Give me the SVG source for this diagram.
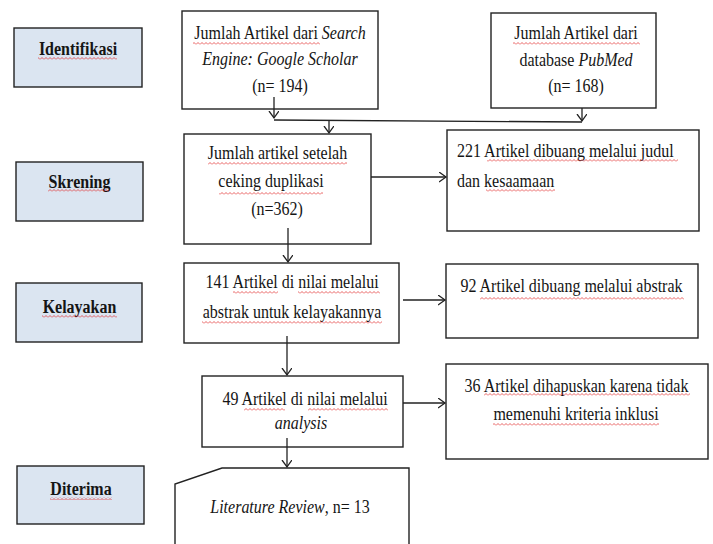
<svg xmlns="http://www.w3.org/2000/svg" width="713" height="544" viewBox="0 0 713 544" font-family="Liberation Serif, Times New Roman, serif" font-size="16">
<style>
text{font-family:'Liberation Serif','Times New Roman',serif;font-size:16px;fill:#151515}
.c{text-anchor:middle}
.b{font-weight:bold}
.i{font-style:italic}
.lab{fill:#dbe5f1;stroke:#222;stroke-width:1.4}
.box{fill:#fff;stroke:#222;stroke-width:1.4}
.con{fill:none;stroke:#222;stroke-width:1.3}
.sq{fill:url(#wave)}
</style>
<defs>
<marker id="ah" markerUnits="userSpaceOnUse" markerWidth="12" markerHeight="12" refX="7" refY="5" orient="auto">
<path d="M0,0 L7,5 L0,10" fill="none" stroke="#222" stroke-width="1.3"/>
</marker>
<pattern id="wave" patternUnits="userSpaceOnUse" width="4" height="3">
<path d="M0,2.5 L2,0.5 L4,2.5" fill="none" stroke="#e02020" stroke-width="0.7"/>
</pattern>
</defs>

<g id="lab-identifikasi"><rect class="lab" x="14" y="28" width="128" height="59"/><text class="c b" transform="matrix(1,0,0,1.13,78,55)">Identifikasi</text></g>
<g id="lab-skrening"><rect class="lab" x="16" y="162" width="127" height="59"/><text class="c b" transform="matrix(1,0,0,1.13,79.5,188)">Skrening</text></g>
<g id="lab-kelayakan"><rect class="lab" x="16" y="283" width="126" height="59"/><text class="c b" transform="matrix(1,0,0,1.13,79.5,313)">Kelayakan</text></g>
<g id="lab-diterima"><rect class="lab" x="17" y="466" width="127" height="58"/><text class="c b" transform="matrix(1,0,0,1.13,81,495)">Diterima</text></g>

<g id="n-scholar"><rect class="box" x="182" y="11" width="196" height="98"/>
<text class="c" transform="matrix(1,0,0,1.13,280,39)">Jumlah Artikel dari <tspan class="i">Search</tspan></text>
<text class="c i" transform="matrix(1,0,0,1.13,280,65)">Engine: Google Scholar</text>
<text class="c" transform="matrix(1,0,0,1.13,280,92)">(n= 194)</text></g>

<g id="n-pubmed"><rect class="box" x="491" y="13" width="165" height="95"/>
<text class="c" transform="matrix(1,0,0,1.13,576,39)">Jumlah Artikel dari</text>
<text class="c" transform="matrix(1,0,0,1.13,576,66)">database <tspan class="i">PubMed</tspan></text>
<text class="c" transform="matrix(1,0,0,1.13,576,92)">(n= 168)</text></g>

<g id="n-dup"><rect class="box" x="184" y="134" width="187" height="110"/>
<text class="c" transform="matrix(1,0,0,1.13,277.5,159)">Jumlah artikel setelah</text>
<text class="c" transform="matrix(1,0,0,1.13,271,187)">ceking duplikasi</text>
<text class="c" transform="matrix(1,0,0,1.13,277,215)">(n=362)</text></g>

<g id="n-excl1"><rect class="box" x="447" y="130" width="252" height="101"/>
<text transform="matrix(1,0,0,1.13,457,157)">221 Artikel dibuang melalui judul</text>
<text transform="matrix(1,0,0,1.13,457,187)">dan kesaamaan</text></g>

<g id="n-abs"><rect class="box" x="184" y="263" width="215" height="80"/>
<text class="c" transform="matrix(1,0,0,1.13,292,288)">141 Artikel di nilai melalui</text>
<text class="c" transform="matrix(1,0,0,1.13,292,318)">abstrak untuk kelayakannya</text></g>

<g id="n-excl2"><rect class="box" x="446" y="264" width="252" height="74"/>
<text class="c" transform="matrix(1,0,0,1.13,571.5,292)">92 Artikel dibuang melalui abstrak</text></g>

<g id="n-analysis"><rect class="box" x="202" y="376" width="201" height="71"/>
<text class="c" transform="matrix(1,0,0,1.13,305,405)">49 Artikel di nilai melalui</text>
<text class="c i" transform="matrix(1,0,0,1.13,301,429)">analysis</text></g>

<g id="n-excl3"><rect class="box" x="446" y="364" width="262" height="95"/>
<text class="c" transform="matrix(1,0,0,1.13,576.5,392)">36 Artikel dihapuskan karena tidak</text>
<text class="c" transform="matrix(1,0,0,1.13,576,420)">memenuhi kriteria inklusi</text></g>

<g id="n-review"><path class="box" d="M175,546 L175,484 L222,468 L409,468 L409,546"/>
<text class="c" transform="matrix(1,0,0,1.13,290,513)"><tspan class="i">Literature Review</tspan>, n= 13</text></g>

<g id="connectors">
<path class="con" d="M274,97 L274,118" marker-end="url(#ah)"/>
<path class="con" d="M274,120 L582,122" stroke-width="1.8"/>
<path class="con" d="M582,108 L582,121" marker-end="url(#ah)"/>
<path class="con" d="M329,121 L329,133" marker-end="url(#ah)"/>
<path class="con" d="M371,177 L446,177" marker-end="url(#ah)"/>
<path class="con" d="M288,228 L288,262" marker-end="url(#ah)"/>
<path class="con" d="M403,300 L445,300" marker-end="url(#ah)"/>
<path class="con" d="M287,336 L287,375" marker-end="url(#ah)"/>
<path class="con" d="M403,403 L445,403" marker-end="url(#ah)"/>
<path class="con" d="M287,438 L287,467" marker-end="url(#ah)"/>
</g>

<g id="spellcheck">
<rect class="sq" x="38" y="57" width="79" height="3"/>
<rect class="sq" x="48" y="189" width="61" height="3"/>
<rect class="sq" x="42" y="315" width="75" height="3"/>
<rect class="sq" x="50" y="497" width="62" height="3"/>
<rect class="sq" x="193" y="42" width="127" height="3"/>
<rect class="sq" x="513" y="42" width="127" height="3"/>
<rect class="sq" x="208" y="162" width="139" height="3"/>
<rect class="sq" x="219" y="192" width="104" height="3"/>
<rect class="sq" x="487" y="159" width="191" height="3"/>
<rect class="sq" x="486" y="189" width="69" height="3"/>
<rect class="sq" x="233" y="291" width="45" height="3"/>
<rect class="sq" x="298" y="291" width="82" height="3"/>
<rect class="sq" x="202" y="321" width="180" height="3"/>
<rect class="sq" x="480" y="297" width="204" height="3"/>
<rect class="sq" x="244" y="408" width="41" height="3"/>
<rect class="sq" x="308" y="408" width="80" height="3"/>
<rect class="sq" x="484" y="393" width="206" height="3"/>
<rect class="sq" x="493" y="423" width="166" height="3"/>
</g>
</svg>
